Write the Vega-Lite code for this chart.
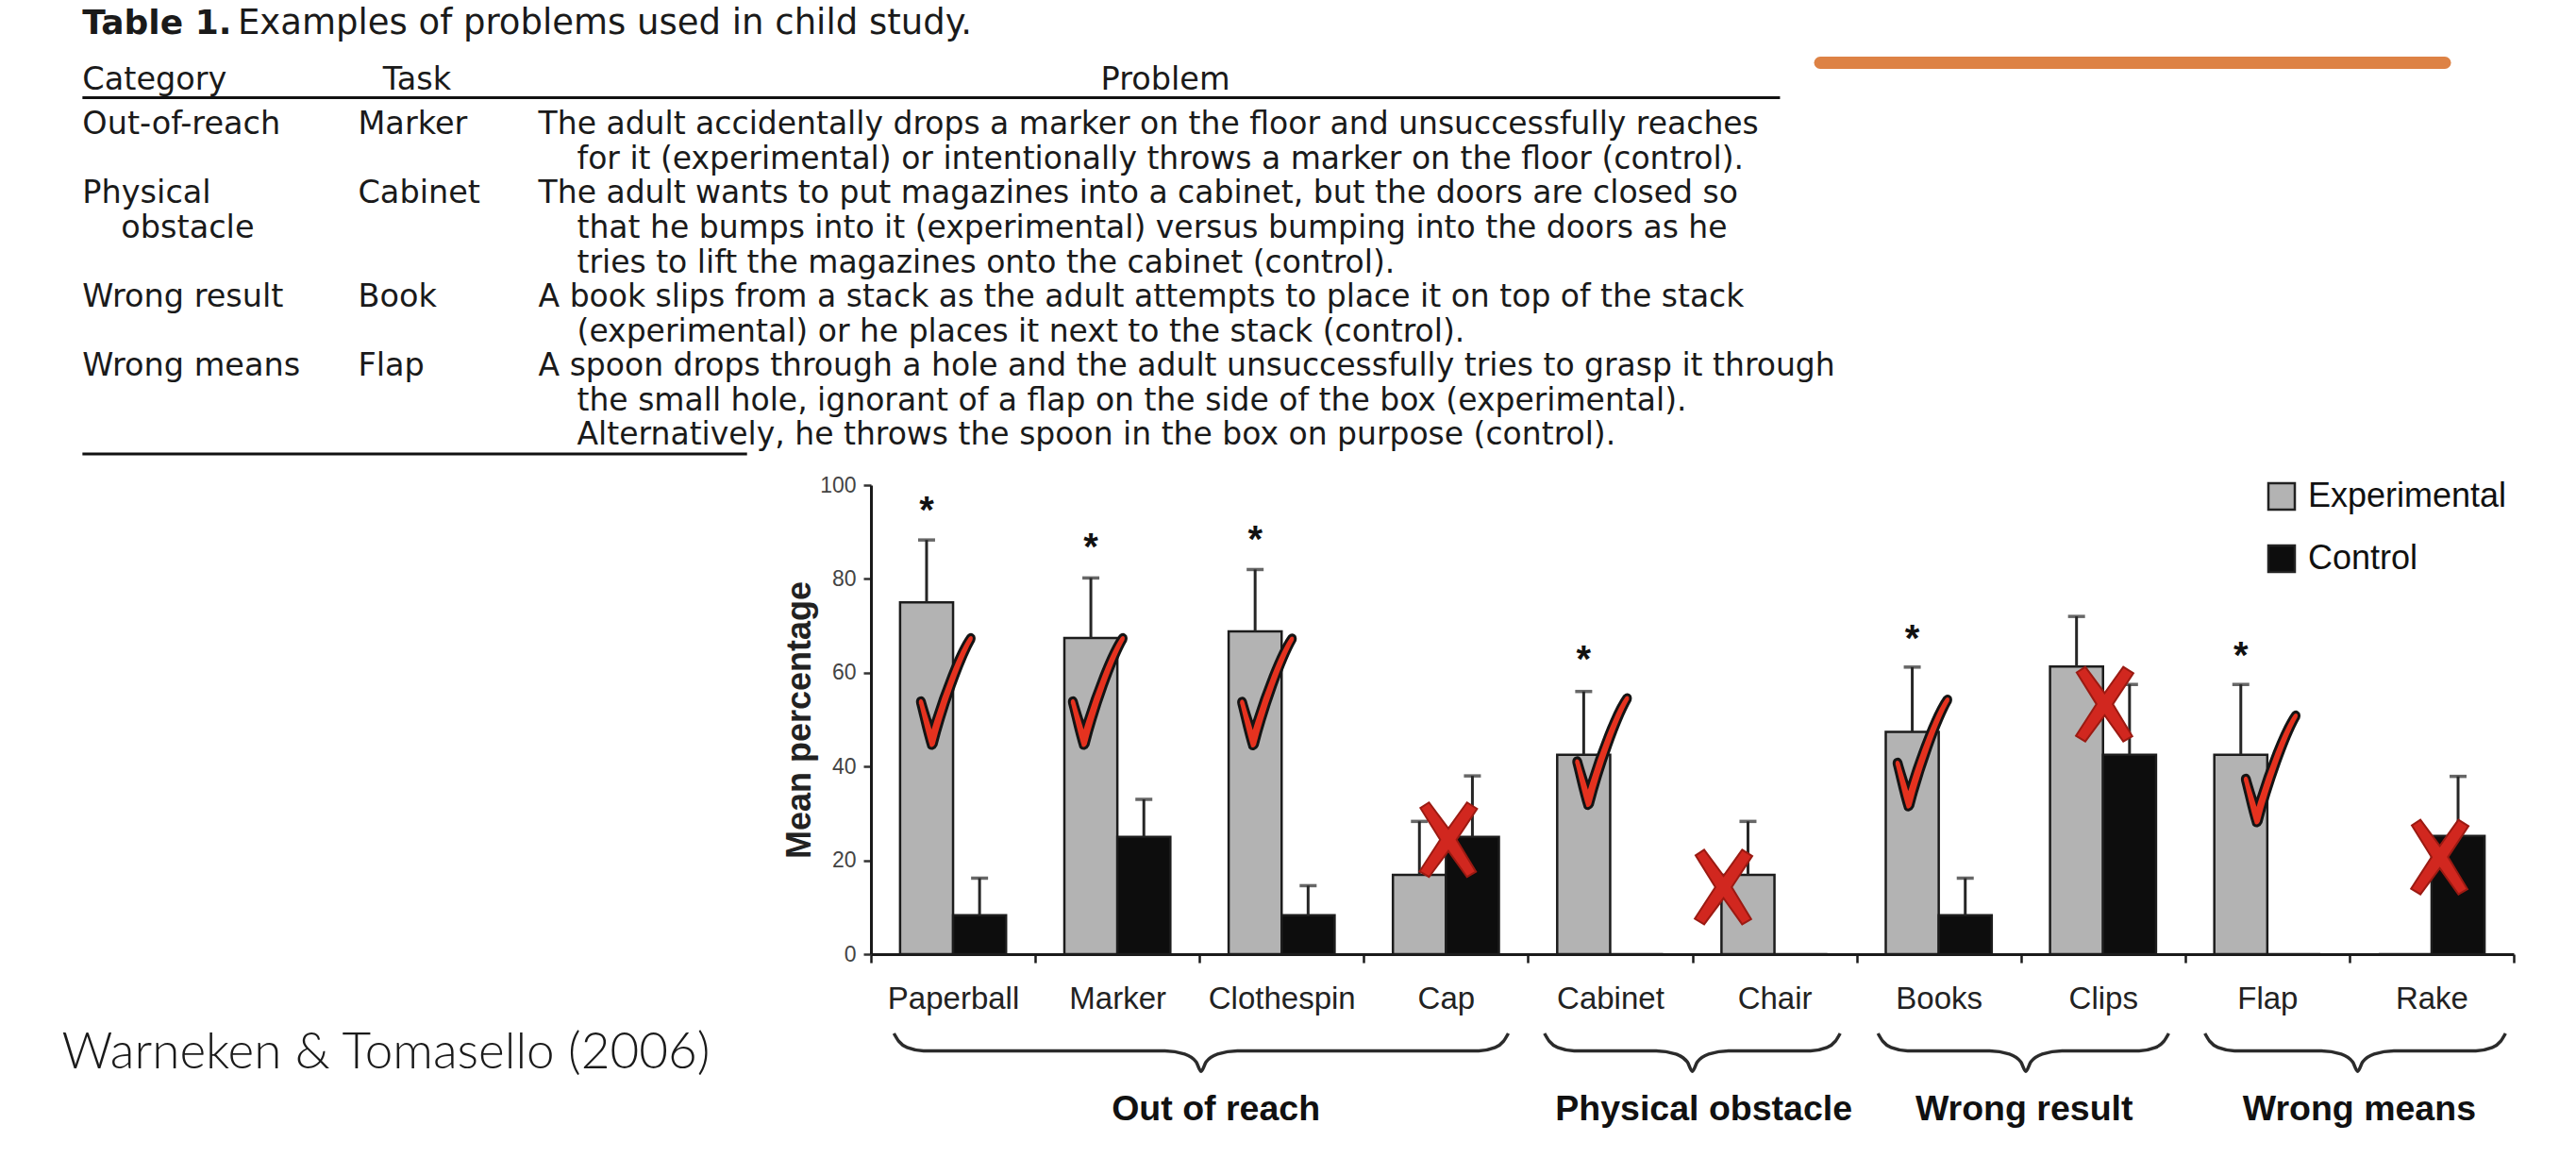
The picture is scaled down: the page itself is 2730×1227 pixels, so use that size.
{
  "$schema": "https://vega.github.io/schema/vega-lite/v6.json",
  "background": "white",
  "padding": 0,
  "bounds": "flush",
  "spacing": 24,
  "config": {"view": {"stroke": null}, "font": "Liberation Sans"},
  "datasets": {
    "bars": [
      {"task": "Paperball", "group": "Experimental", "value": 75.0, "upper": 88.3},
      {"task": "Paperball", "group": "Control", "value": 8.3, "upper": 16.2},
      {"task": "Marker", "group": "Experimental", "value": 67.4, "upper": 80.2},
      {"task": "Marker", "group": "Control", "value": 25.0, "upper": 33.0},
      {"task": "Clothespin", "group": "Experimental", "value": 68.8, "upper": 82.0},
      {"task": "Clothespin", "group": "Control", "value": 8.3, "upper": 14.6},
      {"task": "Cap", "group": "Experimental", "value": 16.9, "upper": 28.3},
      {"task": "Cap", "group": "Control", "value": 25.0, "upper": 38.0},
      {"task": "Cabinet", "group": "Experimental", "value": 42.5, "upper": 56.0},
      {"task": "Cabinet", "group": "Control", "value": 0, "upper": null},
      {"task": "Chair", "group": "Experimental", "value": 16.9, "upper": 28.3},
      {"task": "Chair", "group": "Control", "value": 0, "upper": null},
      {"task": "Books", "group": "Experimental", "value": 47.4, "upper": 61.2},
      {"task": "Books", "group": "Control", "value": 8.3, "upper": 16.2},
      {"task": "Clips", "group": "Experimental", "value": 61.3, "upper": 72.0},
      {"task": "Clips", "group": "Control", "value": 42.5, "upper": 57.5},
      {"task": "Flap", "group": "Experimental", "value": 42.5, "upper": 57.5},
      {"task": "Flap", "group": "Control", "value": 0, "upper": null},
      {"task": "Rake", "group": "Experimental", "value": 0, "upper": null},
      {"task": "Rake", "group": "Control", "value": 25.2, "upper": 37.9}
    ],
    "stars": [
      {"task": "Paperball", "group": "Experimental", "value": 96.6},
      {"task": "Marker", "group": "Experimental", "value": 88.7},
      {"task": "Clothespin", "group": "Experimental", "value": 90.3},
      {"task": "Cabinet", "group": "Experimental", "value": 64.7},
      {"task": "Books", "group": "Experimental", "value": 69.2},
      {"task": "Flap", "group": "Experimental", "value": 65.6}
    ],
    "marks": [
      {"task": "Paperball", "kind": "check", "pos": 0.455, "value": 56.1},
      {"task": "Marker", "kind": "check", "pos": 1.38, "value": 56.1},
      {"task": "Clothespin", "kind": "check", "pos": 2.41, "value": 56.0},
      {"task": "Cap", "kind": "cross", "pos": 3.515, "value": 24.4},
      {"task": "Cabinet", "kind": "check", "pos": 4.45, "value": 43.3},
      {"task": "Chair", "kind": "cross", "pos": 5.19, "value": 14.3},
      {"task": "Books", "kind": "check", "pos": 6.40, "value": 43.0},
      {"task": "Clips", "kind": "cross", "pos": 7.51, "value": 53.3},
      {"task": "Flap", "kind": "check", "pos": 8.52, "value": 39.6},
      {"task": "Rake", "kind": "cross", "pos": 9.55, "value": 20.7}
    ],
    "groups": [
      {"label": "Out of reach", "pos": 2.10, "value": -33.2},
      {"label": "Physical obstacle", "pos": 5.07, "value": -33.2},
      {"label": "Wrong result", "pos": 7.02, "value": -33.2},
      {"label": "Wrong means", "pos": 9.06, "value": -33.2}
    ],
    "braces": [
      {"group": "Out of reach", "pos": 0.14, "value": -16.9},
      {"group": "Out of reach", "pos": 0.17, "value": -18.6},
      {"group": "Out of reach", "pos": 0.22, "value": -19.9},
      {"group": "Out of reach", "pos": 0.32, "value": -20.6},
      {"group": "Out of reach", "pos": 1.79, "value": -20.6},
      {"group": "Out of reach", "pos": 1.91, "value": -21.3},
      {"group": "Out of reach", "pos": 1.98, "value": -23.0},
      {"group": "Out of reach", "pos": 2.01, "value": -25.0},
      {"group": "Out of reach", "pos": 2.04, "value": -23.0},
      {"group": "Out of reach", "pos": 2.11, "value": -21.3},
      {"group": "Out of reach", "pos": 2.23, "value": -20.6},
      {"group": "Out of reach", "pos": 3.70, "value": -20.6},
      {"group": "Out of reach", "pos": 3.80, "value": -19.9},
      {"group": "Out of reach", "pos": 3.85, "value": -18.6},
      {"group": "Out of reach", "pos": 3.88, "value": -16.9},
      {"group": "Physical obstacle", "pos": 4.10, "value": -16.9},
      {"group": "Physical obstacle", "pos": 4.13, "value": -18.6},
      {"group": "Physical obstacle", "pos": 4.18, "value": -19.9},
      {"group": "Physical obstacle", "pos": 4.28, "value": -20.6},
      {"group": "Physical obstacle", "pos": 4.78, "value": -20.6},
      {"group": "Physical obstacle", "pos": 4.90, "value": -21.3},
      {"group": "Physical obstacle", "pos": 4.97, "value": -23.0},
      {"group": "Physical obstacle", "pos": 5.00, "value": -25.0},
      {"group": "Physical obstacle", "pos": 5.03, "value": -23.0},
      {"group": "Physical obstacle", "pos": 5.10, "value": -21.3},
      {"group": "Physical obstacle", "pos": 5.22, "value": -20.6},
      {"group": "Physical obstacle", "pos": 5.72, "value": -20.6},
      {"group": "Physical obstacle", "pos": 5.82, "value": -19.9},
      {"group": "Physical obstacle", "pos": 5.87, "value": -18.6},
      {"group": "Physical obstacle", "pos": 5.90, "value": -16.9},
      {"group": "Wrong result", "pos": 6.13, "value": -16.9},
      {"group": "Wrong result", "pos": 6.16, "value": -18.6},
      {"group": "Wrong result", "pos": 6.21, "value": -19.9},
      {"group": "Wrong result", "pos": 6.31, "value": -20.6},
      {"group": "Wrong result", "pos": 6.81, "value": -20.6},
      {"group": "Wrong result", "pos": 6.93, "value": -21.3},
      {"group": "Wrong result", "pos": 7.00, "value": -23.0},
      {"group": "Wrong result", "pos": 7.03, "value": -25.0},
      {"group": "Wrong result", "pos": 7.06, "value": -23.0},
      {"group": "Wrong result", "pos": 7.13, "value": -21.3},
      {"group": "Wrong result", "pos": 7.25, "value": -20.6},
      {"group": "Wrong result", "pos": 7.72, "value": -20.6},
      {"group": "Wrong result", "pos": 7.82, "value": -19.9},
      {"group": "Wrong result", "pos": 7.87, "value": -18.6},
      {"group": "Wrong result", "pos": 7.90, "value": -16.9},
      {"group": "Wrong means", "pos": 8.12, "value": -16.9},
      {"group": "Wrong means", "pos": 8.15, "value": -18.6},
      {"group": "Wrong means", "pos": 8.20, "value": -19.9},
      {"group": "Wrong means", "pos": 8.30, "value": -20.6},
      {"group": "Wrong means", "pos": 8.83, "value": -20.6},
      {"group": "Wrong means", "pos": 8.95, "value": -21.3},
      {"group": "Wrong means", "pos": 9.02, "value": -23.0},
      {"group": "Wrong means", "pos": 9.05, "value": -25.0},
      {"group": "Wrong means", "pos": 9.08, "value": -23.0},
      {"group": "Wrong means", "pos": 9.15, "value": -21.3},
      {"group": "Wrong means", "pos": 9.27, "value": -20.6},
      {"group": "Wrong means", "pos": 9.77, "value": -20.6},
      {"group": "Wrong means", "pos": 9.87, "value": -19.9},
      {"group": "Wrong means", "pos": 9.92, "value": -18.6},
      {"group": "Wrong means", "pos": 9.95, "value": -16.9}
    ],
    "tableTitle": [
      {"part": "label", "text": "Table 1."},
      {"part": "caption", "text": "Examples of problems used in child study."}
    ],
    "tableHead": [
      {"col": "Category", "text": "Category"},
      {"col": "Task", "text": "Task"},
      {"col": "Problem", "text": "Problem"}
    ],
    "table": [
      {"line": 1, "col": "Category", "text": "Out-of-reach"},
      {"line": 1, "col": "Task", "text": "Marker"},
      {"line": 1, "col": "Problem", "text": "The adult accidentally drops a marker on the floor and unsuccessfully reaches"},
      {"line": 2, "col": "ProblemCont", "text": "for it (experimental) or intentionally throws a marker on the floor (control)."},
      {"line": 3, "col": "Category", "text": "Physical"},
      {"line": 3, "col": "Task", "text": "Cabinet"},
      {"line": 3, "col": "Problem", "text": "The adult wants to put magazines into a cabinet, but the doors are closed so"},
      {"line": 4, "col": "CategoryCont", "text": "obstacle"},
      {"line": 4, "col": "ProblemCont", "text": "that he bumps into it (experimental) versus bumping into the doors as he"},
      {"line": 5, "col": "ProblemCont", "text": "tries to lift the magazines onto the cabinet (control)."},
      {"line": 6, "col": "Category", "text": "Wrong result"},
      {"line": 6, "col": "Task", "text": "Book"},
      {"line": 6, "col": "Problem", "text": "A book slips from a stack as the adult attempts to place it on top of the stack"},
      {"line": 7, "col": "ProblemCont", "text": "(experimental) or he places it next to the stack (control)."},
      {"line": 8, "col": "Category", "text": "Wrong means"},
      {"line": 8, "col": "Task", "text": "Flap"},
      {"line": 8, "col": "Problem", "text": "A spoon drops through a hole and the adult unsuccessfully tries to grasp it through"},
      {"line": 9, "col": "ProblemCont", "text": "the small hole, ignorant of a flap on the side of the box (experimental)."},
      {"line": 10, "col": "ProblemCont", "text": "Alternatively, he throws the spoon in the box on purpose (control)."}
    ],
    "decor": [
      {"item": "header rule"},
      {"item": "bottom rule"},
      {"item": "accent"}
    ],
    "cite": [
      {"text": "Warneken & Tomasello (2006)"}
    ]
  },
  "vconcat": [
    {
      "width": 2730,
      "height": 490,
      "encoding": {
        "x": {"type": "quantitative", "scale": {"domain": [0, 100], "nice": false, "zero": false}, "axis": null},
        "y": {"type": "quantitative", "scale": {"domain": [-2.6187, 10.784], "reverse": true, "nice": false, "zero": false}, "axis": null}
      },
      "layer": [
        {
          "data": {"name": "decor"},
          "transform": [{"filter": "datum.item == 'accent'"}],
          "mark": {"type": "rule", "color": "#dd8245", "strokeWidth": 13, "strokeCap": "round"},
          "encoding": {"x": {"datum": 70.66, "type": "quantitative"}, "x2": {"datum": 94.91}, "y": {"datum": -0.8, "type": "quantitative"}}
        },
        {
          "data": {"name": "decor"},
          "transform": [{"filter": "datum.item == 'header rule'"}],
          "mark": {"type": "rule", "color": "#111111", "strokeWidth": 3},
          "encoding": {"x": {"datum": 3.2, "type": "quantitative"}, "x2": {"datum": 69.1}, "y": {"datum": 0.212, "type": "quantitative"}}
        },
        {
          "data": {"name": "decor"},
          "transform": [{"filter": "datum.item == 'bottom rule'"}],
          "mark": {"type": "rule", "color": "#111111", "strokeWidth": 3},
          "encoding": {"x": {"datum": 3.2, "type": "quantitative"}, "x2": {"datum": 29.0}, "y": {"datum": 10.538, "type": "quantitative"}}
        },
        {
          "data": {"name": "tableTitle"},
          "transform": [{"filter": "datum.part == 'label'"}],
          "mark": {"type": "text", "align": "left", "baseline": "middle", "font": "DejaVu Sans", "fontSize": 36, "fontWeight": "bold", "color": "#1a1a1a"},
          "encoding": {"x": {"datum": 3.2, "type": "quantitative"}, "y": {"datum": -1.93, "type": "quantitative"}, "text": {"field": "text"}}
        },
        {
          "data": {"name": "tableTitle"},
          "transform": [{"filter": "datum.part == 'caption'"}],
          "mark": {"type": "text", "align": "left", "baseline": "middle", "font": "DejaVu Sans", "fontSize": 37, "color": "#1a1a1a"},
          "encoding": {"x": {"datum": 9.23, "type": "quantitative"}, "y": {"datum": -1.93, "type": "quantitative"}, "text": {"field": "text"}}
        },
        {
          "data": {"name": "tableHead"},
          "transform": [{"filter": "datum.col == 'Category'"}],
          "mark": {"type": "text", "align": "left", "baseline": "middle", "font": "DejaVu Sans", "fontSize": 33.5, "color": "#1a1a1a"},
          "encoding": {"x": {"datum": 3.2, "type": "quantitative"}, "y": {"datum": -0.30, "type": "quantitative"}, "text": {"field": "text"}}
        },
        {
          "data": {"name": "tableHead"},
          "transform": [{"filter": "datum.col == 'Task'"}],
          "mark": {"type": "text", "align": "center", "baseline": "middle", "font": "DejaVu Sans", "fontSize": 33.5, "color": "#1a1a1a"},
          "encoding": {"x": {"datum": 16.19, "type": "quantitative"}, "y": {"datum": -0.30, "type": "quantitative"}, "text": {"field": "text"}}
        },
        {
          "data": {"name": "tableHead"},
          "transform": [{"filter": "datum.col == 'Problem'"}],
          "mark": {"type": "text", "align": "center", "baseline": "middle", "font": "DejaVu Sans", "fontSize": 33.5, "color": "#1a1a1a"},
          "encoding": {"x": {"datum": 45.24, "type": "quantitative"}, "y": {"datum": -0.30, "type": "quantitative"}, "text": {"field": "text"}}
        },
        {
          "data": {"name": "table"},
          "transform": [{"filter": "datum.col == 'Category'"}],
          "mark": {"type": "text", "align": "left", "baseline": "middle", "font": "DejaVu Sans", "fontSize": 33.5, "color": "#1a1a1a"},
          "encoding": {"x": {"datum": 3.2, "type": "quantitative"}, "y": {"field": "line", "type": "quantitative"}, "text": {"field": "text"}}
        },
        {
          "data": {"name": "table"},
          "transform": [{"filter": "datum.col == 'CategoryCont'"}],
          "mark": {"type": "text", "align": "left", "baseline": "middle", "font": "DejaVu Sans", "fontSize": 33.5, "color": "#1a1a1a"},
          "encoding": {"x": {"datum": 4.7, "type": "quantitative"}, "y": {"field": "line", "type": "quantitative"}, "text": {"field": "text"}}
        },
        {
          "data": {"name": "table"},
          "transform": [{"filter": "datum.col == 'Task'"}],
          "mark": {"type": "text", "align": "left", "baseline": "middle", "font": "DejaVu Sans", "fontSize": 33.5, "color": "#1a1a1a"},
          "encoding": {"x": {"datum": 13.9, "type": "quantitative"}, "y": {"field": "line", "type": "quantitative"}, "text": {"field": "text"}}
        },
        {
          "data": {"name": "table"},
          "transform": [{"filter": "datum.col == 'Problem'"}],
          "mark": {"type": "text", "align": "left", "baseline": "middle", "font": "DejaVu Sans", "fontSize": 33, "color": "#1a1a1a"},
          "encoding": {"x": {"datum": 20.9, "type": "quantitative"}, "y": {"field": "line", "type": "quantitative"}, "text": {"field": "text"}}
        },
        {
          "data": {"name": "table"},
          "transform": [{"filter": "datum.col == 'ProblemCont'"}],
          "mark": {"type": "text", "align": "left", "baseline": "middle", "font": "DejaVu Sans", "fontSize": 33, "color": "#1a1a1a"},
          "encoding": {"x": {"datum": 22.4, "type": "quantitative"}, "y": {"field": "line", "type": "quantitative"}, "text": {"field": "text"}}
        }
      ]
    },
    {
      "bounds": "flush",
      "spacing": 105,
      "hconcat": [
        {
          "width": 818,
          "height": 497,
          "data": {"name": "cite"},
          "mark": {"type": "text", "font": "Lato", "fontWeight": 300, "fontSize": 53, "color": "#1a1a1a", "baseline": "middle", "align": "center"},
          "encoding": {
            "text": {"field": "text"},
            "y": {"datum": -21.2, "type": "quantitative", "scale": {"domain": [0, 100], "nice": false, "zero": false}, "axis": null}
          }
        },
        {
          "width": 1741,
          "height": 497,
          "resolve": {"scale": {"x": "independent"}, "axis": {"x": "independent"}},
          "layer": [
            {
              "layer": [
                {
                  "data": {"name": "bars"},
                  "mark": {"type": "bar", "stroke": "#1c1c1c", "strokeWidth": 2.5},
                  "encoding": {
                    "x": {
                      "field": "task", "type": "nominal",
                      "scale": {"domain": ["Paperball", "Marker", "Clothespin", "Cap", "Cabinet", "Chair", "Books", "Clips", "Flap", "Rake"], "paddingInner": 0, "paddingOuter": 0},
                      "axis": {"title": null, "labelAngle": 0, "labelFont": "Liberation Sans", "labelFontSize": 33, "labelColor": "#222222", "labelPadding": 38, "labelBaseline": "middle", "tickBand": "extent", "tickSize": 9, "tickWidth": 2.5, "tickColor": "#1a1a1a", "domainColor": "#1a1a1a", "domainWidth": 3}
                    },
                    "xOffset": {"field": "group", "type": "nominal", "scale": {"domain": ["Experimental", "Control"], "paddingInner": 0, "paddingOuter": 0.55}},
                    "y": {
                      "field": "value", "type": "quantitative",
                      "scale": {"domain": [0, 100], "nice": false},
                      "axis": {"title": "Mean percentage", "titleFont": "Liberation Sans", "titleFontSize": 36, "titleFontWeight": "bold", "titleColor": "#222222", "titlePadding": 2, "values": [0, 20, 40, 60, 80, 100], "labelFont": "Liberation Sans", "labelFontSize": 23, "labelColor": "#444444", "labelPadding": 8, "tickSize": 8, "tickWidth": 2.5, "tickColor": "#333333", "domainColor": "#1a1a1a", "domainWidth": 3, "grid": false}
                    },
                    "color": {
                      "field": "group", "type": "nominal",
                      "scale": {"domain": ["Experimental", "Control"], "range": ["#b3b3b3", "#0d0d0d"]},
                      "legend": {"orient": "none", "legendX": 2400, "legendY": 508, "title": null, "symbolType": "square", "symbolSize": 784, "symbolStrokeColor": "#222222", "symbolStrokeWidth": 2.5, "symbolOpacity": 1, "labelFont": "Liberation Sans", "labelFontSize": 36, "labelColor": "#111111", "labelOffset": 10, "labelLimit": 0, "rowPadding": 28, "padding": 0}
                    }
                  }
                },
                {
                  "data": {"name": "bars"},
                  "transform": [{"filter": "datum.upper != null"}],
                  "mark": {"type": "rule", "color": "#262626", "strokeWidth": 3},
                  "encoding": {
                    "x": {"field": "task", "type": "nominal"},
                    "xOffset": {"field": "group", "type": "nominal"},
                    "y": {"field": "value", "type": "quantitative"},
                    "y2": {"field": "upper"}
                  }
                },
                {
                  "data": {"name": "bars"},
                  "transform": [{"filter": "datum.upper != null"}],
                  "mark": {"type": "tick", "color": "#262626", "thickness": 3.5, "size": 18, "orient": "horizontal"},
                  "encoding": {
                    "x": {"field": "task", "type": "nominal"},
                    "xOffset": {"field": "group", "type": "nominal"},
                    "y": {"field": "upper", "type": "quantitative"}
                  }
                },
                {
                  "data": {"name": "stars"},
                  "mark": {"type": "text", "text": "*", "font": "Liberation Sans", "fontSize": 40, "fontWeight": "bold", "color": "#111111", "baseline": "alphabetic", "dy": 23},
                  "encoding": {
                    "x": {"field": "task", "type": "nominal"},
                    "xOffset": {"field": "group", "type": "nominal"},
                    "y": {"field": "value", "type": "quantitative"}
                  }
                }
              ]
            },
            {
              "encoding": {
                "x": {"field": "pos", "type": "quantitative", "scale": {"domain": [0, 10], "nice": false, "zero": false}, "axis": null},
                "y": {"field": "value", "type": "quantitative"}
              },
              "layer": [
                {
                  "data": {"name": "braces"},
                  "mark": {"type": "line", "interpolate": "monotone", "color": "#2b2b2b", "strokeWidth": 3.5},
                  "encoding": {"detail": {"field": "group"}}
                },
                {
                  "data": {"name": "groups"},
                  "mark": {"type": "text", "font": "Liberation Sans", "fontSize": 37.5, "fontWeight": "bold", "color": "#111111", "baseline": "middle", "align": "center"},
                  "encoding": {"text": {"field": "label"}}
                },
                {
                  "data": {"name": "marks"},
                  "transform": [{"filter": "datum.kind == 'cross'"}],
                  "mark": {"type": "point", "shape": "M -0.75 -0.85 L -0.52 -1 L 0 -0.3 L 0.5 -1 L 0.77 -0.83 L 0.22 0 L 0.74 0.86 L 0.5 1 L 0 0.3 L -0.52 1 L -0.77 0.85 L -0.22 0 Z", "filled": true, "fill": "#d1271f", "stroke": "#9b1a12", "strokeWidth": 2, "size": 6241, "opacity": 1}
                },
                {
                  "data": {"name": "marks"},
                  "transform": [{"filter": "datum.kind == 'check'"}],
                  "mark": {"type": "point", "shape": "M -0.30 1.0 C -0.38 0.75 -0.44 0.45 -0.50 0.22 C -0.52 0.12 -0.42 0.08 -0.38 0.17 C -0.33 0.35 -0.28 0.5 -0.25 0.6 C -0.08 0.05 0.2 -0.7 0.4 -0.98 C 0.45 -1.03 0.53 -1.0 0.5 -0.9 C 0.3 -0.55 0.0 0.3 -0.17 0.96 C -0.2 1.03 -0.27 1.04 -0.3 1.0 Z", "filled": true, "fill": "#e5321f", "stroke": "#141414", "strokeWidth": 3, "size": 14161, "opacity": 1}
                }
              ]
            }
          ]
        }
      ]
    }
  ]
}
